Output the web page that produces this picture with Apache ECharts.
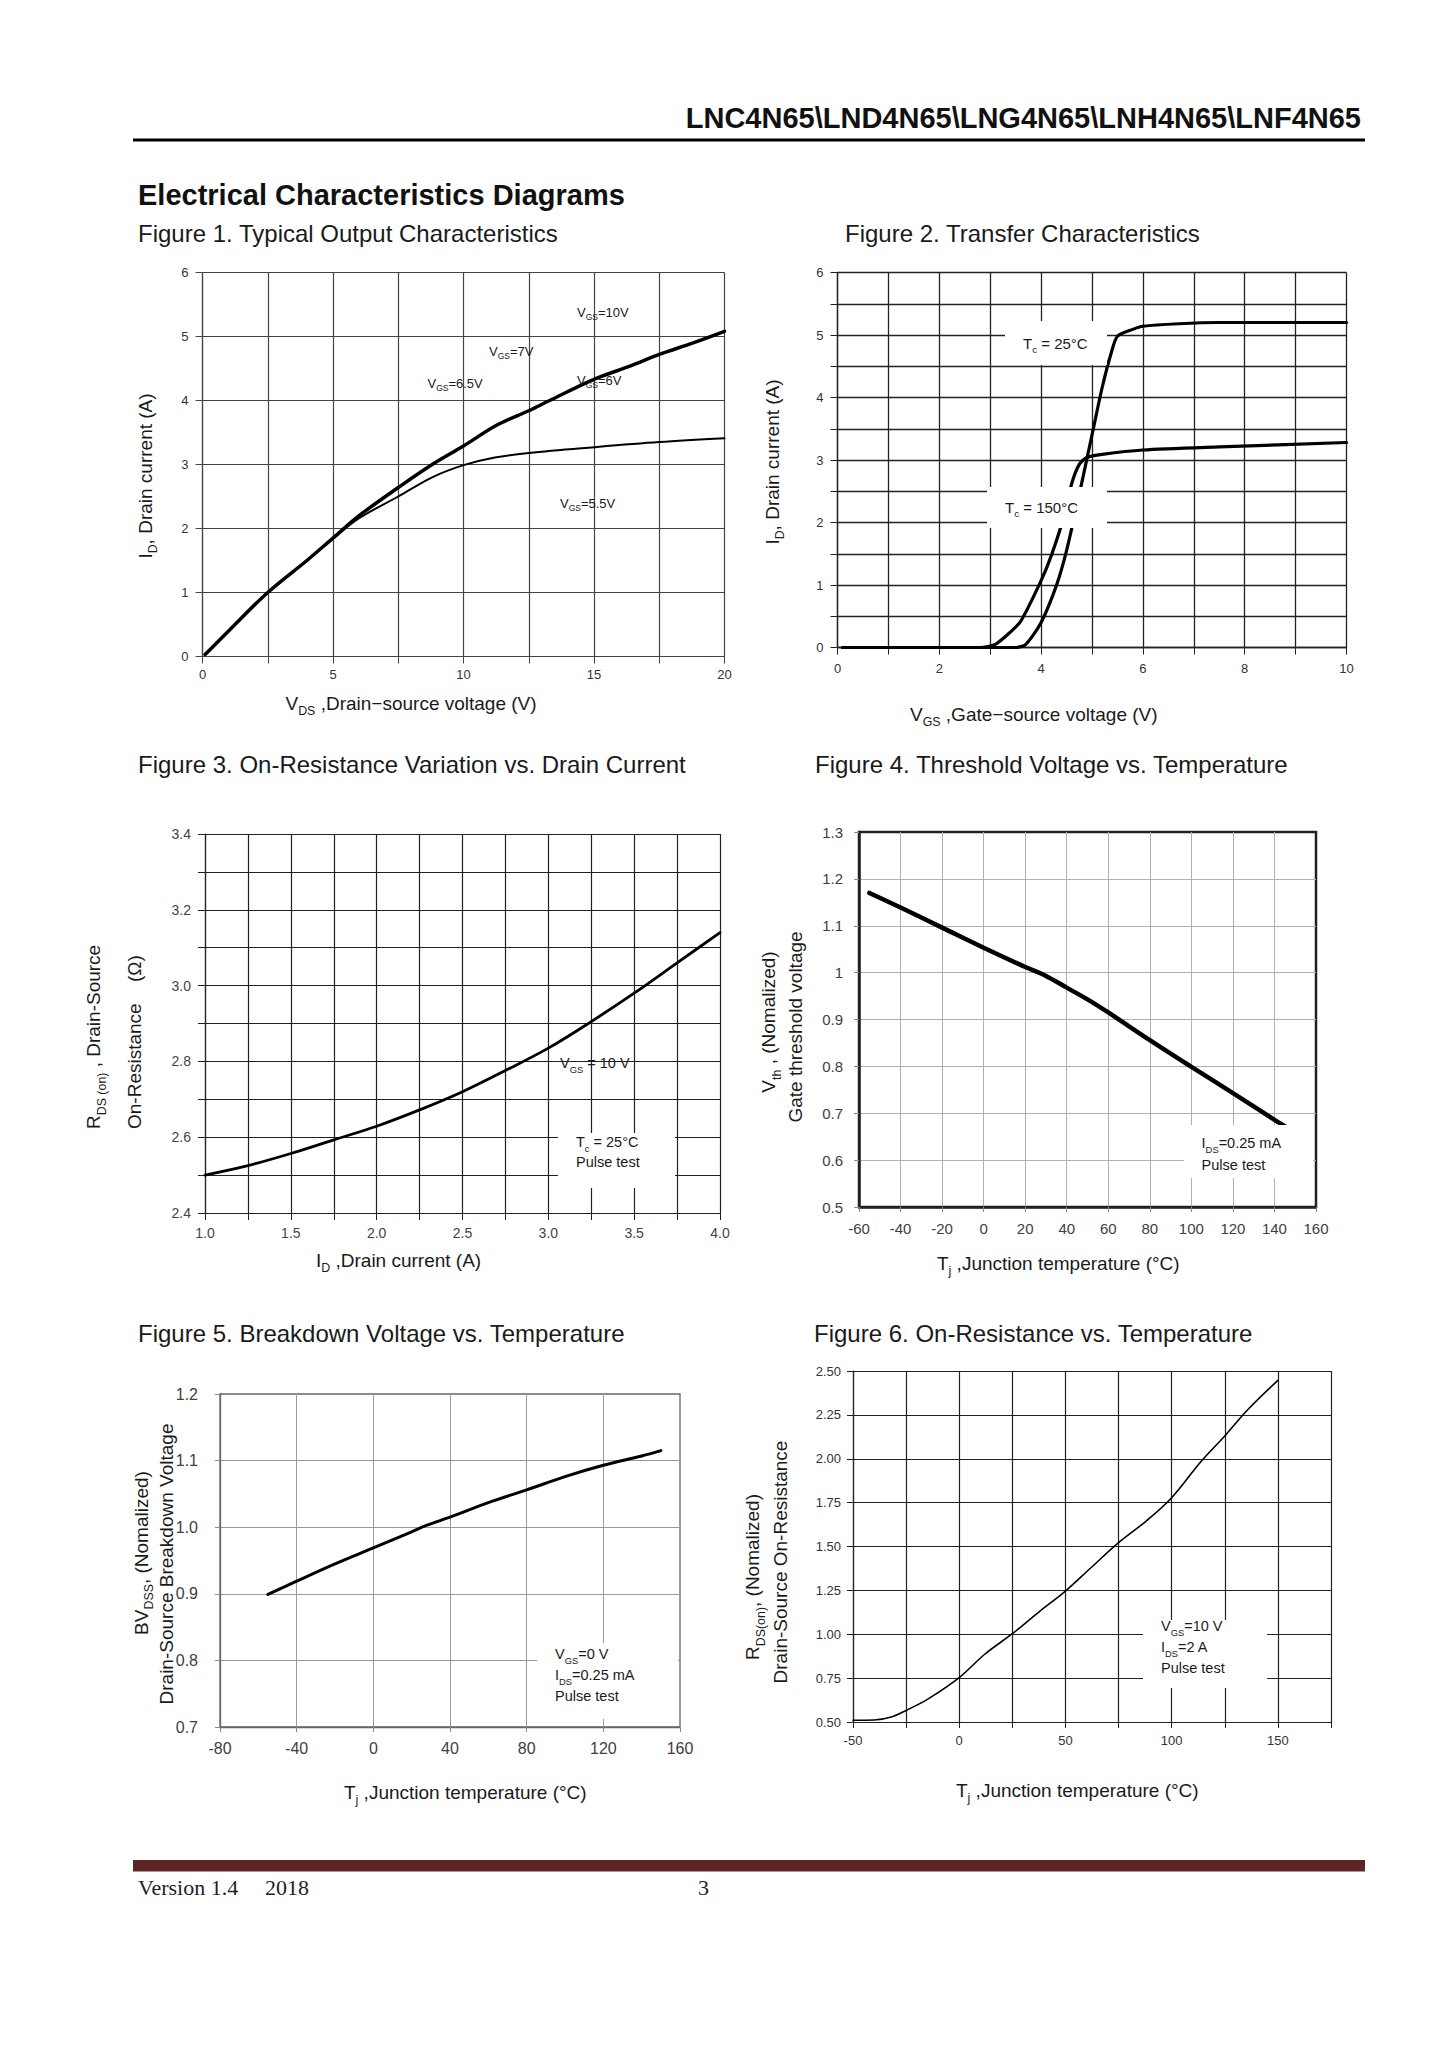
<!DOCTYPE html>
<html><head><meta charset="utf-8">
<script src="https://cdn.jsdelivr.net/npm/echarts@6/dist/echarts.min.js"></script>
<style>html,body{margin:0;padding:0;background:#fff}#c{width:1447px;height:2047px}</style>
</head><body><div id="c"></div>
<script>
// ---------------- data ----------------
// Figure 1 – Typical output characteristics
const fig1VdsMain = [0.1, 1, 2.5, 4, 5, 6, 7.5, 8.8, 10, 11.3, 12.5, 13.3, 15, 16.4, 17.5, 18.8, 20];
const fig1IdMain  = [0.03, 0.4, 1.0, 1.5, 1.85, 2.2, 2.64, 3.0, 3.29, 3.62, 3.84, 4.0, 4.33, 4.54, 4.72, 4.9, 5.08]; // VGS = 6 … 10 V (overlapping)
const fig1Vds55 = [0.1, 1, 2.5, 4, 5, 6, 7.5, 8.8, 10, 11.2, 12.5, 15, 17.5, 20];
const fig1Id55  = [0.03, 0.4, 1.0, 1.5, 1.84, 2.16, 2.5, 2.8, 2.99, 3.11, 3.18, 3.27, 3.35, 3.41]; // VGS = 5.5 V
const fig1XLabels = ['0', '5', '10', '15', '20'];
const fig1YLabels = ['0', '1', '2', '3', '4', '5', '6'];
// Figure 2 – Transfer characteristics
const fig2Vgs25 = [0.1, 2.0, 3.5, 3.7, 4.0, 4.3, 4.5, 4.75, 5.0, 5.2, 5.38, 5.5, 5.8, 6.0, 6.7, 7.5, 10];
const fig2Id25  = [0, 0, 0, 0.05, 0.4, 0.99, 1.55, 2.45, 3.4, 4.16, 4.72, 4.98, 5.09, 5.14, 5.18, 5.2, 5.2];
const fig2Vgs150 = [0.1, 2.8, 3.1, 3.4, 3.6, 4.0, 4.2, 4.45, 4.6, 4.75, 4.9, 5.2, 6.0, 7.5, 10];
const fig2Id150  = [0, 0, 0.05, 0.25, 0.42, 1.07, 1.47, 2.1, 2.62, 2.93, 3.04, 3.09, 3.16, 3.21, 3.28];
const fig2XLabels = ['0', '2', '4', '6', '8', '10'];
const fig2YLabels = ['0', '1', '2', '3', '4', '5', '6'];
// Figure 3 – On-resistance vs drain current
const fig3Id  = [1.0, 1.25, 1.5, 1.75, 2.0, 2.25, 2.5, 2.75, 3.0, 3.25, 3.5, 3.75, 4.0];
const fig3Rds = [2.50, 2.525, 2.557, 2.593, 2.629, 2.672, 2.72, 2.776, 2.835, 2.905, 2.98, 3.06, 3.14];
const fig3XLabels = ['1.0', '1.5', '2.0', '2.5', '3.0', '3.5', '4.0'];
const fig3YLabels = ['2.4', '2.6', '2.8', '3.0', '3.2', '3.4'];
// Figure 4 – Threshold voltage vs temperature
const fig4Tj  = [-55, -40, -20, 0, 20, 30, 40, 50, 60, 80, 100, 120, 140, 147];
const fig4Vth = [1.17, 1.139, 1.096, 1.053, 1.012, 0.993, 0.968, 0.943, 0.915, 0.856, 0.799, 0.743, 0.686, 0.667];
const fig4XLabels = ['-60', '-40', '-20', '0', '20', '40', '60', '80', '100', '120', '140', '160'];
const fig4YLabels = ['0.5', '0.6', '0.7', '0.8', '0.9', '1', '1.1', '1.2', '1.3'];
// Figure 5 – Breakdown voltage vs temperature
const fig5Tj = [-55, -40, -20, 0, 20, 28, 40, 60, 80, 100, 120, 140, 150];
const fig5Bv = [0.899, 0.919, 0.945, 0.969, 0.993, 1.003, 1.015, 1.037, 1.056, 1.076, 1.093, 1.107, 1.115];
const fig5XLabels = ['-80', '-40', '0', '40', '80', '120', '160'];
const fig5YLabels = ['0.7', '0.8', '0.9', '1.0', '1.1', '1.2'];
// Figure 6 – On-resistance vs temperature
const fig6Tj  = [-50, -40, -32, -25, -15, 0, 12, 25, 38, 50, 62, 75, 88, 100, 114, 125, 136, 150];
const fig6Rds = [0.51, 0.511, 0.528, 0.566, 0.629, 0.753, 0.886, 1.003, 1.132, 1.246, 1.379, 1.522, 1.645, 1.778, 1.987, 2.13, 2.282, 2.447];
const fig6XLabels = ['-50', '0', '50', '100', '150'];
const fig6YLabels = ['0.50', '0.75', '1.00', '1.25', '1.50', '1.75', '2.00', '2.25', '2.50'];

// ---------------- layout / styling ----------------
const F = "'Liberation Sans', Arial, Helvetica, sans-serif";
const SERIF = "'Liberation Serif', 'Times New Roman', serif";

const grids = [
  {left: 202.5, top: 272.5, width: 522, height: 384},
  {left: 837.5, top: 272.5, width: 509, height: 375},
  {left: 205, top: 834, width: 515, height: 379},
  {left: 859, top: 832, width: 457, height: 375, show: true, borderColor: '#222', borderWidth: 2.5},
  {left: 220, top: 1394, width: 460, height: 333, show: true, borderColor: '#666', borderWidth: 1.3},
  {left: 853, top: 1371, width: 478, height: 351}
].map(g => Object.assign({containLabel: false, outerBoundsMode: 'none', backgroundColor: 'transparent'}, g));

const ST = [
  {grid: '#444', gw: 1.2, axis: '#444', aw: 1.2, tickC: '#444', tick: 7, fs: 13, xm: 11, ym: 14, edge: true, lc: '#333'},
  {grid: '#222', gw: 1.3, axis: '#222', aw: 1.3, tickC: '#222', tick: 7, fs: 13, xm: 14, ym: 14, edge: true, lc: '#333'},
  {grid: '#222', gw: 1.2, axis: '#222', aw: 1.2, tickC: '#222', tick: 7, fs: 14, xm: 13, ym: 14, edge: true, lc: '#444'},
  {grid: '#b0b0b0', gw: 1, axis: '#222', aw: 2.5, tickC: '#888', tick: 5, fs: 15, xm: 14, ym: 16, edge: false, lc: '#404040'},
  {grid: '#999', gw: 1, axis: '#666', aw: 1.3, tickC: '#888', tick: 5, fs: 16, xm: 13, ym: 22, edge: false, lc: '#404040'},
  {grid: '#222', gw: 1.2, axis: '#222', aw: 1.2, tickC: '#222', tick: 6, fs: 13, xm: 12, ym: 12, edge: true, lc: '#333'}
];

function fmtFrom(labels) {
  return v => { const s = labels.find(l => Math.abs(parseFloat(l) - v) < 1e-6); return s === undefined ? '' : s; };
}
function axis(gi, min, max, interval, labels, isY) {
  const s = ST[gi];
  return {
    type: 'value', gridIndex: gi, min, max, interval, position: isY ? 'left' : 'bottom',
    axisLine: {show: true, onZero: false, lineStyle: {color: s.axis, width: s.aw}},
    axisTick: {show: true, inside: false, length: s.tick, lineStyle: {color: s.tickC, width: 1}},
    axisLabel: {show: true, formatter: fmtFrom(labels), margin: isY ? s.ym : s.xm, color: s.lc,
      fontSize: s.fs, fontFamily: F, showMinLabel: true, showMaxLabel: true, hideOverlap: false},
    splitLine: {show: true, showMinLine: s.edge, showMaxLine: s.edge, lineStyle: {color: s.grid, width: s.gw}}
  };
}
const xAxis = [
  axis(0, 0, 20, 2.5, fig1XLabels, false),
  axis(1, 0, 10, 1, fig2XLabels, false),
  axis(2, 1.0, 4.0, 0.25, fig3XLabels, false),
  axis(3, -60, 160, 20, fig4XLabels, false),
  axis(4, -80, 160, 40, fig5XLabels, false),
  axis(5, -50, 175, 25, fig6XLabels, false)
];
const yAxis = [
  axis(0, 0, 6, 1, fig1YLabels, true),
  axis(1, 0, 6, 0.5, fig2YLabels, true),
  axis(2, 2.4, 3.4, 0.1, fig3YLabels, true),
  axis(3, 0.5, 1.3, 0.1, fig4YLabels, true),
  axis(4, 0.7, 1.2, 0.1, fig5YLabels, true),
  axis(5, 0.5, 2.5, 0.25, fig6YLabels, true)
];

const series = [];
function line(gi, xs, ys, name, width, smooth) {
  series.push({type: 'line', name, xAxisIndex: gi, yAxisIndex: gi,
    data: xs.map((x, i) => [x, ys[i]]), symbol: 'none', showSymbol: false,
    smooth: smooth, silent: true, z: 5,
    lineStyle: {color: '#000', width: width, cap: 'round', join: 'round'}});
}
line(0, fig1Vds55, fig1Id55, 'VGS=5.5V', 2, 0.35);
line(0, fig1VdsMain, fig1IdMain, 'VGS=6V…10V', 3.5, 0.35);
line(1, fig2Vgs150, fig2Id150, 'Tc=150°C', 3.2, 0.25);
line(1, fig2Vgs25, fig2Id25, 'Tc=25°C', 3.2, 0.25);
line(2, fig3Id, fig3Rds, 'VGS=10V', 2.8, 0.35);
line(3, fig4Tj, fig4Vth, 'Vth', 4.5, 0.35);
line(4, fig5Tj, fig5Bv, 'BVDSS', 3, 0.35);
line(5, fig6Tj, fig6Rds, 'RDS(on)', 1.6, 0.35);

// ---------------- text helpers ----------------
function T(x, y, s, size, o) {
  o = o || {};
  const fam = o.family || F;
  const fw = o.bold ? 'bold' : 'normal';
  const col = o.color || '#1a1a1a';
  const sub = Math.round(size * 0.65 * 10) / 10;
  const lh = o.lh || Math.round(size * 1.45);
  let txt = '';
  s.split(/(_\{[^}]*\})/).forEach(p => {
    if (!p) return;
    if (p.startsWith('_{')) txt += '{s|' + p.slice(2, -1) + '}';
    else txt += '{n|' + p + '}';
  });
  return {
    type: 'text', x: x, y: y, rotation: o.rot ? Math.PI / 2 : 0, z: 110, silent: true,
    style: {
      text: txt, align: o.align || 'left', verticalAlign: 'middle',
      textAlign: o.align || 'left', textVerticalAlign: 'middle',
      fill: col, fontFamily: fam, fontSize: size, fontWeight: fw,
      rich: {
        n: {fontSize: size, fontFamily: fam, fontWeight: fw, fill: col, color: col, lineHeight: lh, verticalAlign: 'middle'},
        s: {fontSize: sub, fontFamily: fam, fontWeight: fw, fill: col, color: col, lineHeight: sub, verticalAlign: 'bottom'}
      }
    }
  };
}
function R(x, y, w, h, fill) {
  return {type: 'rect', shape: {x, y, width: w, height: h}, style: {fill: fill || '#fff'}, z: 100, silent: true};
}

const el = [
  // page header
  T(1361, 118, 'LNC4N65\\LND4N65\\LNG4N65\\LNH4N65\\LNF4N65', 29, {bold: true, align: 'right', color: '#111'}),
  R(133, 138.5, 1232, 3, '#000'),
  T(138, 195, 'Electrical Characteristics Diagrams', 29, {bold: true, color: '#111'}),
  T(138, 233, 'Figure 1. Typical Output Characteristics', 24),
  T(845, 233, 'Figure 2. Transfer Characteristics', 24),
  T(138, 764, 'Figure 3. On-Resistance Variation vs. Drain Current', 24),
  T(815, 764, 'Figure 4. Threshold Voltage vs. Temperature', 24),
  T(138, 1333, 'Figure 5. Breakdown Voltage vs. Temperature', 24),
  T(814, 1333, 'Figure 6. On-Resistance vs. Temperature', 24),

  // figure 1
  T(577, 312, 'V_{GS}=10V', 13), T(489, 351, 'V_{GS}=7V', 13), T(427.5, 383, 'V_{GS}=6.5V', 13),
  T(577, 380, 'V_{GS}=6V', 13), T(560, 503, 'V_{GS}=5.5V', 13),
  T(145, 476, 'I_{D}, Drain current (A)', 19, {rot: true, align: 'center'}),
  T(285.5, 703, 'V_{DS} ,Drain\u2212source voltage (V)', 19),

  // figure 2
  R(1005, 321, 102, 44), R(987, 487, 120, 41),
  T(1023, 343, 'T_{c} = 25°C', 15), T(1005, 507, 'T_{c} = 150°C', 15),
  T(772, 462, 'I_{D}, Drain current (A)', 19, {rot: true, align: 'center'}),
  T(910, 714, 'V_{GS} ,Gate\u2212source voltage (V)', 19),

  // figure 3
  R(558, 1133, 117, 55),
  T(560, 1063, 'V_{GS} = 10 V', 14.5), T(576, 1142, 'T_{c} = 25°C', 14.5), T(576, 1162, 'Pulse test', 14.5),
  T(93.5, 1129, 'R_{DS (on)} , Drain-Source', 19, {rot: true, align: 'left'}),
  T(134, 1129, 'On-Resistance', 19, {rot: true, align: 'left'}),
  T(134, 982, '(Ω)', 19, {rot: true, align: 'left'}),
  T(316, 1260, 'I_{D} ,Drain current (A)', 19),

  // figure 4
  R(1184, 1125, 129, 53),
  T(1201.6, 1143, 'I_{DS}=0.25 mA', 14.5), T(1201.6, 1165, 'Pulse test', 14.5),
  T(768.5, 1022, 'V_{th} , (Nomalized)', 19, {rot: true, align: 'center'}),
  T(795, 1027, 'Gate threshold voltage', 19, {rot: true, align: 'center'}),
  T(937, 1263, 'T_{j} ,Junction temperature (°C)', 19),

  // figure 5
  R(537, 1643, 141, 76),
  T(555, 1654, 'V_{GS}=0 V', 14.5), T(555, 1675, 'I_{DS}=0.25 mA', 14.5), T(555, 1696, 'Pulse test', 14.5),
  T(141, 1553, 'BV_{DSS}, (Nomalized)', 19, {rot: true, align: 'center'}),
  T(166.7, 1564, 'Drain-Source Breakdown Voltage', 19, {rot: true, align: 'center'}),
  T(344, 1792, 'T_{j} ,Junction temperature (°C)', 19),

  // figure 6
  R(1143, 1620, 124, 68),
  T(1161, 1626, 'V_{GS}=10 V', 14.5), T(1161, 1647, 'I_{DS}=2 A', 14.5), T(1161, 1668, 'Pulse test', 14.5),
  T(752.5, 1577, 'R_{DS(on)}, (Nomalized)', 19, {rot: true, align: 'center'}),
  T(780, 1562, 'Drain-Source On-Resistance', 19, {rot: true, align: 'center'}),
  T(956, 1790, 'T_{j} ,Junction temperature (°C)', 19),

  // footer
  R(133, 1860, 1232, 11.5, '#5e2527'),
  T(138, 1887, 'Version 1.4', 22, {family: SERIF, color: '#222'}),
  T(265, 1887, '2018', 22, {family: SERIF, color: '#222'}),
  T(698, 1887, '3', 22, {family: SERIF, color: '#222'})
];

const chart = echarts.init(document.getElementById('c'), null, {renderer: 'svg', width: 1447, height: 2047});
chart.setOption({
  animation: false,
  backgroundColor: '#fff',
  grid: grids,
  xAxis: xAxis,
  yAxis: yAxis,
  series: series,
  graphic: {elements: el}
});
</script>
</body></html>
